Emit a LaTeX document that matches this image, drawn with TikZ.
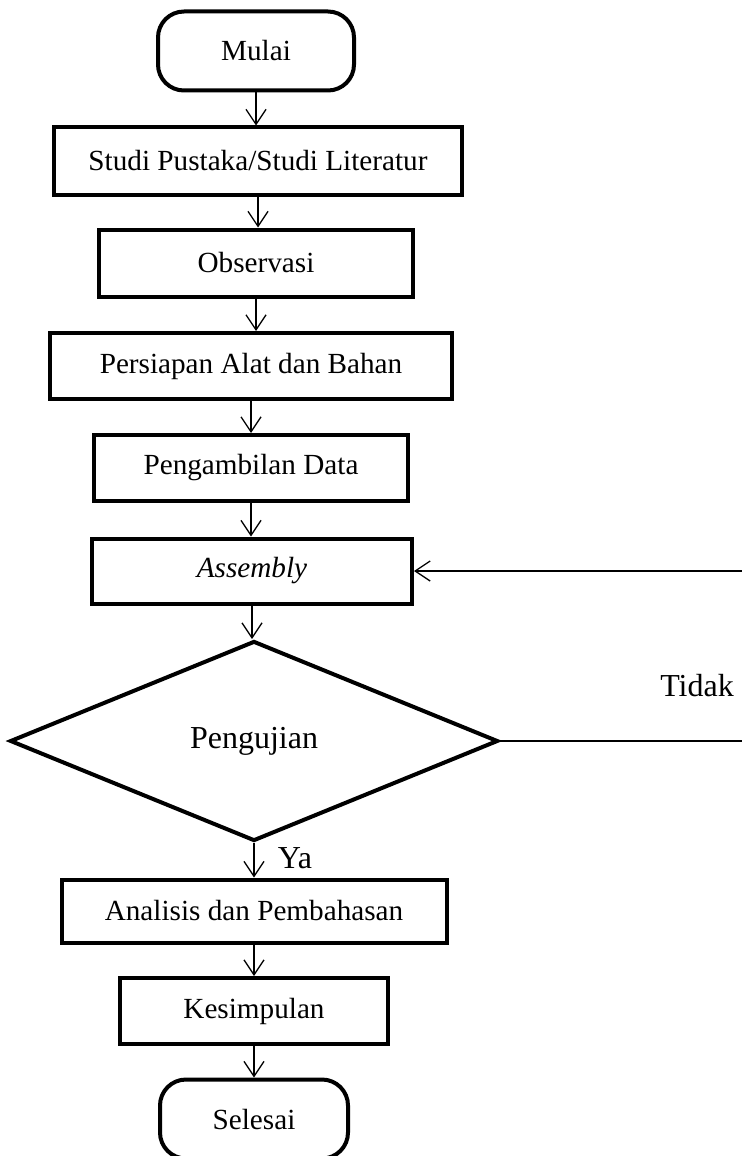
\documentclass[tikz,border=0pt]{standalone}
\usepackage{fontspec}
\setmainfont{Liberation Serif}
\usetikzlibrary{shapes.geometric,arrows.meta}

\tikzset{
  proses/.style={rectangle, draw, line width=2pt, font=\fontsize{14.6}{17}\selectfont},
  terminal/.style={rectangle, draw, line width=2pt, rounded corners=13pt, font=\fontsize{14.6}{17}\selectfont},
  keputusan/.style={diamond, draw, line width=2pt, inner sep=0pt, font=\fontsize{16}{19}\selectfont},
  arr/.style={line width=0.65pt, -{Straight Barb[length=7.5pt,width=10pt]}}
}

\begin{document}
\begin{tikzpicture}[x=0.5pt, y=-0.5pt]
    \useasboundingbox (0,0) rectangle (742,1156);

    \node[terminal, minimum width=98pt, minimum height=39.5pt] (mulai) at (256, 51) {Mulai};
    \node[proses, minimum width=204pt, minimum height=33.5pt] (studi) at (258, 161) {Studi Pustaka/Studi Literatur};
    \node[proses, minimum width=157pt, minimum height=33.5pt] (observasi) at (256, 263) {Observasi};
    \node[proses, minimum width=201pt, minimum height=33pt] (persiapan) at (251, 366) {Persiapan Alat dan Bahan};
    \node[proses, minimum width=157pt, minimum height=33pt] (pengambilan) at (251, 468) {Pengambilan Data};
    \node[proses, minimum width=160pt, minimum height=32.5pt] (assembly) at (252, 571) {\textit{Assembly}};
    \node[keputusan, minimum width=244pt, minimum height=100pt] (pengujian) at (254, 741) {Pengujian};
    \node[proses, minimum width=192.5pt, minimum height=31.5pt] (analisis) at (254, 911) {Analisis dan Pembahasan};
    \node[proses, minimum width=134pt, minimum height=33pt] (kesimpulan) at (254, 1011) {Kesimpulan};
    \node[terminal, minimum width=94pt, minimum height=39.5pt] (selesai) at (254, 1119) {Selesai};

    % label cabang
    \node[font=\fontsize{16}{19}\selectfont] (tidak) at (697, 686) {Tidak};
    \node[font=\fontsize{16}{19}\selectfont] (ya) at (295, 858) {Ya};
    \coordinate (balik) at (746, 741);

    % panah alur
    \draw[arr] (mulai) -- (mulai |- studi.north);
    \draw[arr] (studi) -- (studi |- observasi.north);
    \draw[arr] (observasi) -- (observasi |- persiapan.north);
    \draw[arr] (persiapan) -- (persiapan |- pengambilan.north);
    \draw[arr] (pengambilan) -- (pengambilan |- assembly.north);
    \draw[arr] (assembly) -- (assembly |- pengujian.north);
    \draw[arr] (pengujian) -- (pengujian |- analisis.north);
    \draw[arr] (analisis) -- (analisis |- kesimpulan.north);
    \draw[arr] (kesimpulan) -- (kesimpulan |- selesai.north);

    % kembali ke assembly
    \draw[arr] (pengujian.east) -- (balik) |- (assembly.east);
\end{tikzpicture}
\end{document}
